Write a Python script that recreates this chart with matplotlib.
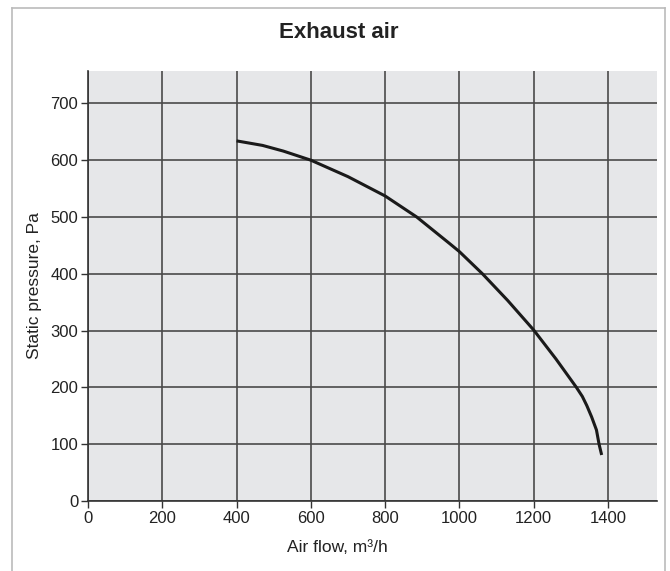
import numpy as np
import matplotlib
matplotlib.use("Agg")
import matplotlib.pyplot as plt
from matplotlib.lines import Line2D

plt.rcParams['font.family'] = ['Liberation Sans', 'DejaVu Sans']

# fan curve
air_flow = [400, 470, 526, 600, 700, 800, 885, 974, 1000, 1062, 1130, 1200, 1260, 1315, 1331,
            1343, 1356, 1369, 1376, 1383]
pressure = [634, 626, 616, 600, 571, 537, 500, 453, 439, 400, 353, 301, 250, 200, 184,
            168, 148, 125, 100, 81]

x_ticks = [0, 200, 400, 600, 800, 1000, 1200, 1400]
y_ticks = [0, 100, 200, 300, 400, 500, 600, 700]

fig = plt.figure(figsize=(6.70, 5.71), dpi=100)
ax = fig.add_axes([88/670, 1 - 501/571, (657 - 88)/670, (501 - 71)/571])

ax.set_facecolor('#e6e7e9')
ax.plot(air_flow, pressure, color='#1a1a1a', lw=2.2, solid_capstyle='butt',
        solid_joinstyle='round', zorder=3)

ax.set_xlim(0, 1532)
ax.set_ylim(0, 757)
ax.set_xticks(x_ticks)
ax.set_yticks(y_ticks)
ax.grid(True, color='#4a4a4a', lw=1.2)
ax.set_axisbelow(True)
for s in ['top', 'right']:
    ax.spines[s].set_visible(False)
for s in ['left', 'bottom']:
    ax.spines[s].set_color('#333333')
    ax.spines[s].set_linewidth(1.2)
ax.tick_params(direction='out', length=5, width=1, color='#333333',
               labelsize=12, labelcolor='#222222', pad=2)

ax.set_ylabel('Static pressure, Pa', fontsize=12.5, color='#222222', labelpad=6)
fig.text(0.503, 1 - 547/571, 'Air flow, m\u00b3/h', fontsize=12.5, color='#222222',
         ha='center', va='center')
fig.text(0.505, 1 - 33/571, 'Exhaust air', fontsize=16, fontweight='bold',
         color='#222222', ha='center', va='center')

# light frame round the chart (open at the bottom)
fx0, fx1, fy1 = 12/670, 665/670, 1 - 8/571
frame = dict(color='#bbbbbb', lw=1.2, transform=fig.transFigure)
fig.lines.append(Line2D([fx0, fx0], [0, fy1], **frame))
fig.lines.append(Line2D([fx0, fx1], [fy1, fy1], **frame))
fig.lines.append(Line2D([fx1, fx1], [0, fy1], **frame))

fig.savefig('out.png', dpi=100)
